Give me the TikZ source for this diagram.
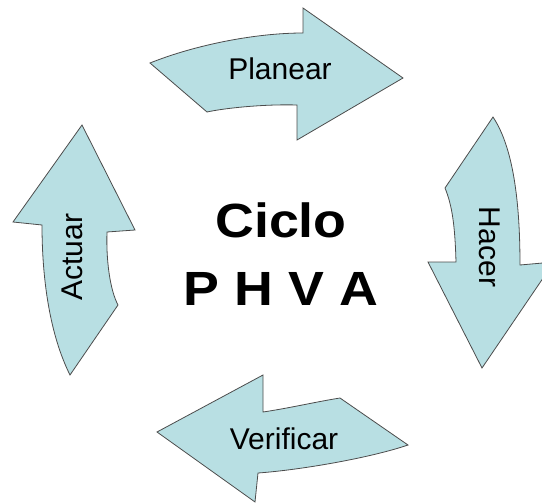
\documentclass[tikz,border=0pt]{standalone}
\usepackage{fontspec}
\setmainfont{Liberation Sans}
\newfontfamily\widefont{Liberation Sans}[FakeStretch=1.12]
\definecolor{phvablue}{RGB}{184,223,227}

\begin{document}
\begin{tikzpicture}[
  x=1pt, y=-1pt,
  arrowshape/.style={draw=black!70, fill=phvablue, line width=0.8pt, line join=miter},
  steplabel/.style={font=\fontsize{30}{36}\selectfont, inner sep=0pt},
  centretext/.style={font=\widefont\bfseries\fontsize{48}{56}\selectfont, inner sep=0pt, anchor=base}
]
\useasboundingbox (0,0) rectangle (542,504);
\clip (0,0) rectangle (542,504);
\draw[arrowshape] (150,63) .. controls (195,45) and (255,33) .. (303,33) -- (303,8) -- (403,78) -- (297,140) -- (297,105) .. controls (265,104) and (225,108) .. (207,112) -- cycle;
\draw[arrowshape] (493,117) -- (445,188) .. controls (452,205) and (455,225) .. (456,262) -- (428,262) -- (482,368) -- (554,262) -- (520,265) .. controls (520,210) and (515,150) .. cycle;
\draw[arrowshape] (157,432) -- (263,375) -- (263,412) .. controls (290,408) and (315,402) .. (340,398) -- (408,445) .. controls (370,458) and (300,470) .. (258,473) -- (255,502) -- cycle;
\draw[arrowshape] (82,125) -- (135,230) -- (107,232) .. controls (106,260) and (110,290) .. (118,305) -- (70,375) .. controls (50,335) and (42,280) .. (42,225) -- (13,222) -- cycle;
\node[steplabel] (planear) at (280,69) {Planear};
\node[steplabel, rotate=-90] (hacer) at (490,247) {Hacer};
\node[steplabel] (verificar) at (284,439) {Verificar};
\node[steplabel, rotate=90] (actuar) at (72,257) {Actuar};
\node[centretext] (ciclo) at (281,237) {Ciclo};
\node[centretext] (phva) at (281,305) {P H V A};
\end{tikzpicture}
\end{document}
